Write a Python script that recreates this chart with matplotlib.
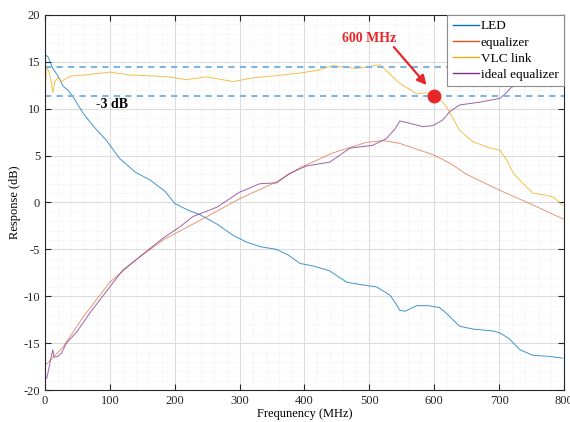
import matplotlib
matplotlib.use("Agg")
import matplotlib.pyplot as plt
from matplotlib.lines import Line2D
from matplotlib.ticker import MultipleLocator
import numpy as np

# ---- data ----
led_f = [0, 5, 12, 20, 28, 35, 43, 59, 75, 95, 115, 140, 162, 185, 200, 220, 239, 265, 290,
         310, 331, 357, 375, 393, 415, 439, 465, 490, 511, 532, 540, 547, 555, 573, 590, 608,
         620, 639, 660, 675, 690, 701, 715, 732, 752, 775, 798]
led_db = [15.8, 15.5, 14.3, 13.5, 12.4, 12.0, 11.3, 9.5, 8.1, 6.6, 4.7, 3.2, 2.4, 1.2, -0.1,
          -0.8, -1.3, -2.3, -3.5, -4.2, -4.7, -5.0, -5.6, -6.5, -6.8, -7.3, -8.5, -8.8, -9.0,
          -9.9, -10.7, -11.5, -11.6, -11.0, -11.0, -11.2, -11.9, -13.2, -13.5, -13.6, -13.7,
          -13.9, -14.5, -15.7, -16.3, -16.4, -16.6]

eq_f = [0, 3, 28, 59, 100, 146, 182, 239, 300, 357, 393, 444, 495, 521, 547, 598, 624, 650,
        701, 750, 800]
eq_db = [-17.3, -17.2, -15.4, -12.2, -8.5, -5.8, -4.0, -1.9, 0.4, 2.2, 3.7, 5.3, 6.4, 6.6,
         6.3, 5.1, 4.2, 3.0, 1.3, -0.2, -1.8]

vlc_f = [0, 2, 6, 10, 12, 15, 20, 25, 32, 40, 60, 100, 130, 167, 190, 218, 249, 290, 321,
         352, 393, 420, 444, 480, 500, 516, 530, 547, 573, 588, 604, 619, 639, 659, 686,
         701, 712, 722, 740, 752, 770, 783, 798]
vlc_db = [11.0, 14.5, 14.0, 12.8, 11.7, 12.9, 13.3, 12.9, 13.2, 13.5, 13.6, 13.9, 13.6,
          13.5, 13.4, 13.1, 13.4, 12.9, 13.3, 13.5, 13.8, 14.1, 14.6, 14.3, 14.5, 14.7,
          13.8, 12.7, 11.6, 11.7, 11.4, 10.2, 7.7, 6.5, 5.8, 5.6, 4.5, 3.1, 1.8, 1.0, 0.8,
          0.6, -0.3]

ideal_f = [0, 3, 8, 12, 14, 20, 26, 33, 49, 69, 100, 120, 146, 182, 208, 228, 265, 300,
           331, 357, 377, 403, 439, 470, 505, 526, 540, 547, 565, 582, 598, 613, 624, 639,
           670, 701, 711, 719, 740, 760, 800]
ideal_db = [-18.8, -18.7, -17.0, -15.7, -16.5, -16.4, -16.0, -15.0, -13.8, -11.8, -9.0,
            -7.2, -5.8, -3.8, -2.6, -1.5, -0.5, 1.1, 2.0, 2.1, 3.1, 3.9, 4.3, 5.8, 6.1, 6.8,
            7.9, 8.7, 8.4, 8.1, 8.2, 8.8, 9.7, 10.4, 10.7, 11.1, 11.7, 12.3, 12.8, 13.4, 13.7]

hline_levels = [14.5, 11.35]
marker_point = (600, 11.35)
series_names = ["LED", "equalizer", "VLC link", "ideal equalizer"]

# ---- style ----
c_led = "#0072BD"
c_eq = "#D95319"
c_vlc = "#EDB120"
c_ideal = "#7E2F8E"

plt.rcParams["font.family"] = ["Liberation Serif", "DejaVu Serif"]
plt.rcParams["axes.unicode_minus"] = False

fig = plt.figure(figsize=(5.70, 4.22), dpi=100)
ax = fig.add_axes([0.0789, 0.0758, 0.9106, 0.8887])

ax.plot(led_f, led_db, color=c_led, lw=0.7, alpha=0.75)
ax.plot(eq_f, eq_db, color=c_eq, lw=0.7, alpha=0.6)
ax.plot(vlc_f, vlc_db, color=c_vlc, lw=0.7, alpha=0.8)
ax.plot(ideal_f, ideal_db, color=c_ideal, lw=0.7, alpha=0.75)

for lv in hline_levels:
    ax.axhline(lv, color="#7fb6e0", lw=1.5, ls=(0, (3, 2.5)))

ax.plot([marker_point[0]], [marker_point[1]], "o", color="#e8262a", ms=9, zorder=5)
ax.annotate("", xy=(591, 12.3), xytext=(535, 16.8),
            arrowprops=dict(arrowstyle="-|>", color="#e8262a", lw=1.6,
                            mutation_scale=14))
ax.text(500, 17.5, "600 MHz", color="#e8262a", fontsize=10, fontweight="bold",
        ha="center", va="center")
ax.text(103, 10.4, "-3 dB", color="black", fontsize=10, fontweight="bold",
        ha="center", va="center")

ax.set_xlim(0, 800)
ax.set_ylim(-20, 20)
ax.xaxis.set_major_locator(MultipleLocator(100))
ax.xaxis.set_minor_locator(MultipleLocator(20))
ax.yaxis.set_major_locator(MultipleLocator(5))
ax.yaxis.set_minor_locator(MultipleLocator(1))
ax.grid(which="major", color="#dcdcdc", lw=0.8, ls="-")
ax.grid(which="minor", color="#ebebeb", lw=0.6, ls=":")
ax.set_axisbelow(True)
ax.tick_params(which="major", direction="in", top=True, right=True, length=4,
               labelsize=9, colors="#262626", width=0.8)
ax.tick_params(which="minor", length=0, top=True, right=True)
for s in ax.spines.values():
    s.set_color("#262626")
    s.set_linewidth(0.8)

ax.set_xlabel("Frequnency (MHz)", fontsize=9, labelpad=1)
ax.set_ylabel("Response (dB)", fontsize=9, labelpad=2)

handles = [Line2D([], [], color=c, lw=1.0) for c in (c_led, c_eq, c_vlc, c_ideal)]
leg = ax.legend(handles, series_names, loc="upper right", borderaxespad=0,
                fancybox=False, framealpha=1, edgecolor="#8c8c8c", fontsize=9.5,
                handlelength=2.0, handletextpad=0.15, labelspacing=0.3,
                borderpad=0.4)
leg.get_frame().set_linewidth(0.8)

fig.savefig("out.png", dpi=100)
